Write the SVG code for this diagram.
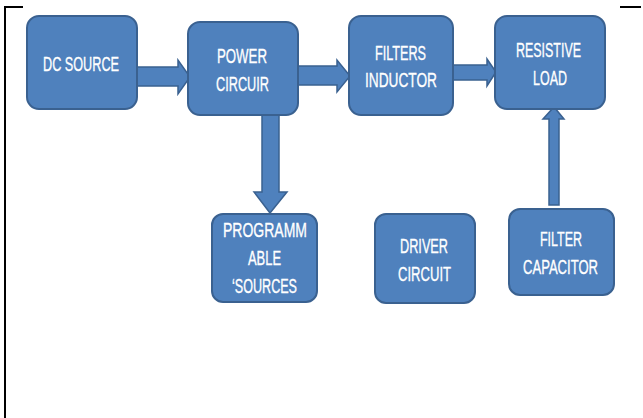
<svg xmlns="http://www.w3.org/2000/svg" width="643" height="418" viewBox="0 0 643 418">
<style>
.box{fill:#4F81BD;stroke:#3A6190;stroke-width:2}
.arr{fill:#4F81BD;stroke:#3A6190;stroke-width:1.5;stroke-linejoin:miter}
.t{fill:#FFFFFF;stroke:#FFFFFF;stroke-width:0.35;font-family:"Liberation Sans",Arial,sans-serif;font-size:21px;text-anchor:middle}
.s{font-size:20px}
.frame{stroke:#000;stroke-width:2;fill:none}
</style>
<rect x="0" y="0" width="643" height="418" fill="#FFFFFF"/>
<g id="frame">
<path class="frame" d="M23,7 H5 V418"/>
<path class="frame" d="M620,7 H641"/>
</g>
<g id="connectors">
<path class="arr" d="M137,67 H178 V60 L190,77 L178,94 V86 H137 Z"/>
<path class="arr" d="M298,66 H337 V60 L350,76 L337,92 V85 H298 Z"/>
<path class="arr" d="M453,65 H487 V59 L496,72 L487,86 V80 H453 Z"/>
<path class="arr" d="M262,115 V192 H254 L270,213 L287,192 H279 V115 Z"/>
<path class="arr" d="M549,205 V119 H543 L554,107 L564,119 H559 V205 Z"/>
</g>
<g id="dc-source">
<rect class="box" x="27" y="16" width="110" height="93" rx="12"/>
<text class="t" x="81" y="71" textLength="76" lengthAdjust="spacingAndGlyphs">DC SOURCE</text>
</g>
<g id="power-circuir">
<rect class="box" x="188" y="22" width="110" height="93" rx="12"/>
<text class="t" x="242" y="63" textLength="50" lengthAdjust="spacingAndGlyphs">POWER</text>
<text class="t" x="242.5" y="91" textLength="53" lengthAdjust="spacingAndGlyphs">CIRCUIR</text>
</g>
<g id="filters-inductor">
<rect class="box" x="349" y="16" width="104" height="99" rx="12"/>
<text class="t" x="400.5" y="60" textLength="51" lengthAdjust="spacingAndGlyphs">FILTERS</text>
<text class="t" x="401" y="87" textLength="72" lengthAdjust="spacingAndGlyphs">INDUCTOR</text>
</g>
<g id="resistive-load">
<rect class="box" x="495" y="16" width="110" height="93" rx="12"/>
<text class="t" x="548.5" y="57" textLength="65" lengthAdjust="spacingAndGlyphs">RESISTIVE</text>
<text class="t" x="550" y="85" textLength="34" lengthAdjust="spacingAndGlyphs">LOAD</text>
</g>
<g id="programmable-sources">
<rect class="box" x="212" y="214" width="105" height="88" rx="11"/>
<text class="t s" x="265" y="237" textLength="84" lengthAdjust="spacingAndGlyphs">PROGRAMM</text>
<text class="t s" x="264.5" y="265" textLength="33" lengthAdjust="spacingAndGlyphs">ABLE</text>
<text class="t s" x="264.5" y="293" textLength="65" lengthAdjust="spacingAndGlyphs">‘SOURCES</text>
</g>
<g id="driver-circuit">
<rect class="box" x="375" y="214" width="100" height="89" rx="11"/>
<text class="t s" x="424" y="253" textLength="48" lengthAdjust="spacingAndGlyphs">DRIVER</text>
<text class="t s" x="424.5" y="281" textLength="53" lengthAdjust="spacingAndGlyphs">CIRCUIT</text>
</g>
<g id="filter-capacitor">
<rect class="box" x="509" y="209" width="105" height="86" rx="11"/>
<text class="t s" x="561" y="246" textLength="42" lengthAdjust="spacingAndGlyphs">FILTER</text>
<text class="t s" x="560.5" y="274" textLength="75" lengthAdjust="spacingAndGlyphs">CAPACITOR</text>
</g>
</svg>
